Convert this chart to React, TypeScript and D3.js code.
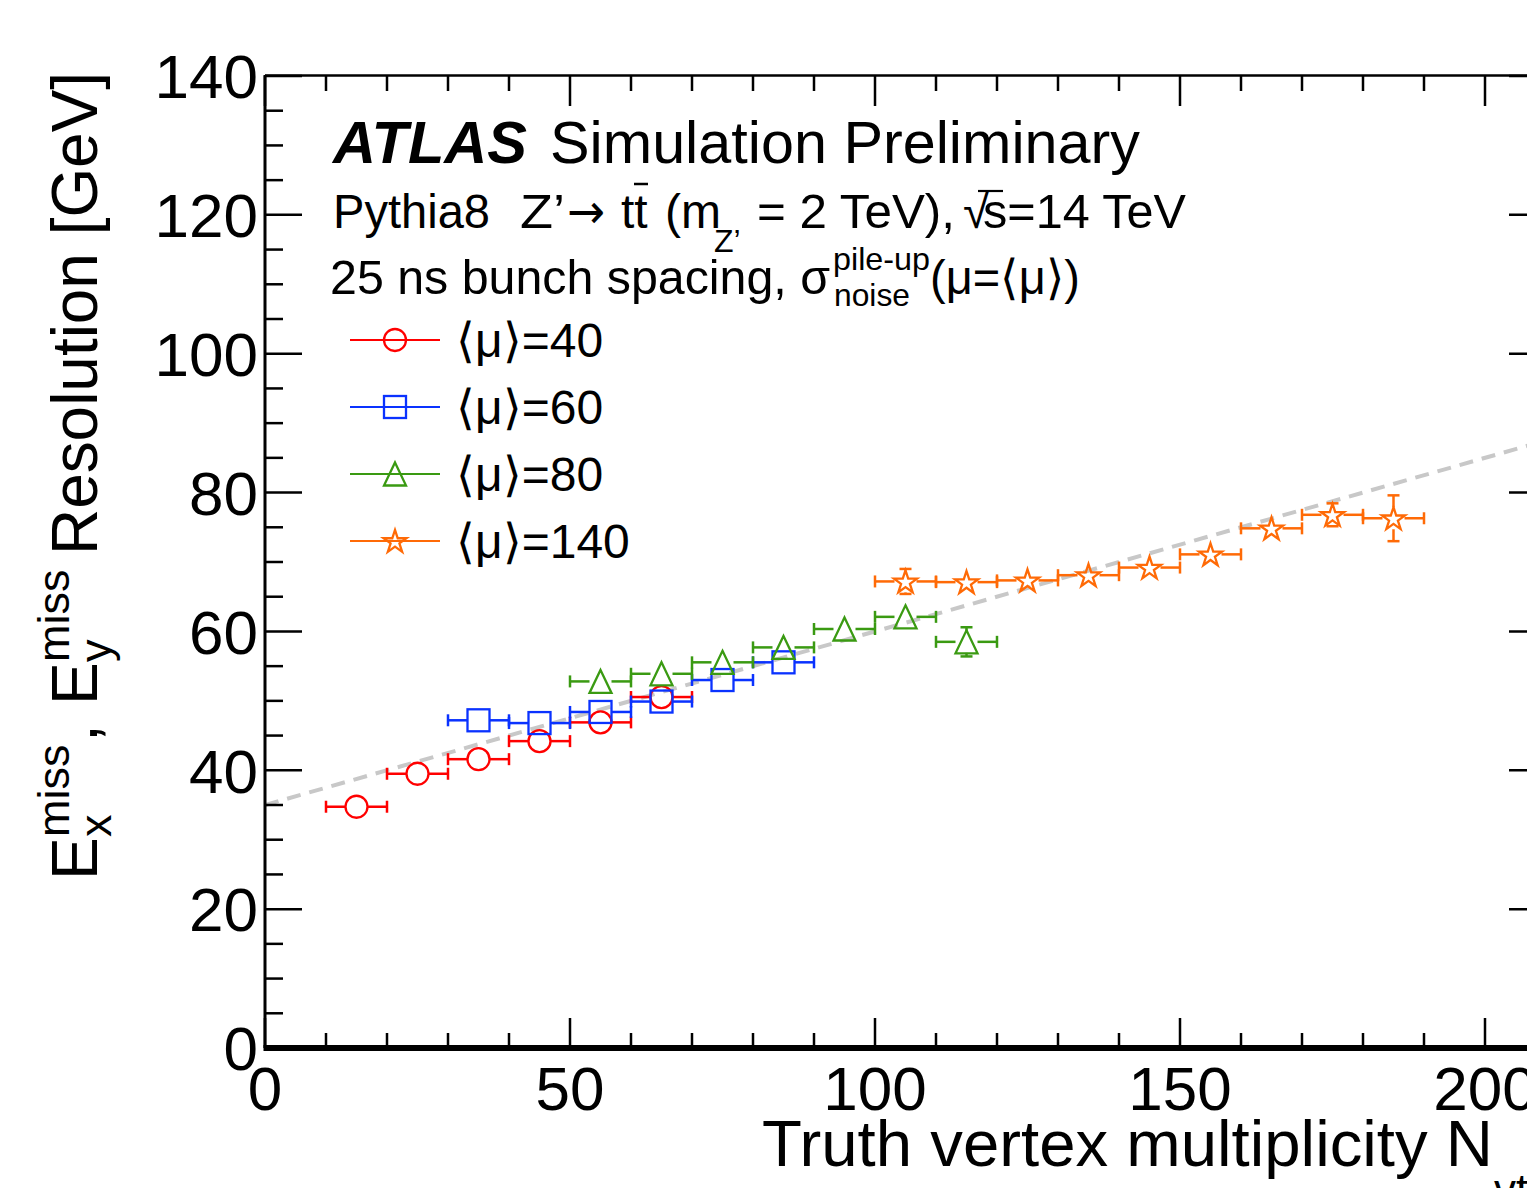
import React from 'react';
import * as d3 from 'd3';

// ---- data ----
const mu40X = [15, 25, 35, 45, 55, 65];
const mu40Y = [34.75, 39.5, 41.6, 44.2, 46.9, 50.55];
const mu40E = [0.3, 0.4, 0.4, 0.5, 0.6, 0.8];

const mu60X = [35, 45, 55, 65, 75, 85];
const mu60Y = [47.2, 46.8, 48.4, 49.9, 53.0, 55.55];
const mu60E = [0.6, 0.6, 0.6, 0.7, 0.8, 0.9];

const mu80X = [55, 65, 75, 85, 95, 105, 115];
const mu80Y = [52.8, 53.9, 55.55, 57.7, 60.35, 62.1, 58.5];
const mu80E = [0.6, 0.6, 0.7, 0.8, 0.9, 1.0, 2.1];

const mu140X = [105, 115, 125, 135, 145, 155, 165, 175, 185];
const mu140Y = [67.2, 67.1, 67.35, 68.1, 69.2, 71.1, 74.85, 76.8, 76.3];
const mu140E = [1.8, 0.8, 0.8, 0.8, 0.9, 1.0, 1.1, 1.65, 3.3];

const binHalfWidth = 5;

const fitX = [0, 210];
const fitY = [35.0, 87.5];

const legendLabels = ['⟨μ⟩=40', '⟨μ⟩=60', '⟨μ⟩=80', '⟨μ⟩=140'];
const yTickLabels = [0, 20, 40, 60, 80, 100, 120, 140];
const xTickLabels = [0, 50, 100, 150, 200];

const RED = '#ff0000';
const BLUE = '#0a32ff';
const GREEN = '#3a9a12';
const ORANGE = '#ff6a06';

const FONT = '"Liberation Sans", Arial, Helvetica, sans-serif';

const starPath = d3.symbol().type(d3.symbolStar).size(165)() as string;

function Marker({ type, cx, cy, color }: { type: string; cx: number; cy: number; color: string }) {
  const common = { fill: 'none', stroke: color, strokeWidth: 2.3 };
  if (type === 'circle') return <circle cx={cx} cy={cy} r={11} {...common} />;
  if (type === 'square') return <rect x={cx - 11} y={cy - 11} width={22} height={22} {...common} />;
  if (type === 'triangle')
    return <path d={`M${cx},${cy - 11.5}L${cx + 11},${cy + 11.5}L${cx - 11},${cy + 11.5}Z`} {...common} strokeLinejoin="miter" />;
  return <path d={starPath} transform={`translate(${cx},${cy + 1})`} {...common} />;
}

export default function App() {
  const x = d3.scaleLinear().domain([0, 210]).range([265, 1546]);
  const y = d3.scaleLinear().domain([0, 140]).range([1048, 76]);

  const series = [
    { xs: mu40X, ys: mu40Y, es: mu40E, color: RED, marker: 'circle', label: legendLabels[0] },
    { xs: mu60X, ys: mu60Y, es: mu60E, color: BLUE, marker: 'square', label: legendLabels[1] },
    { xs: mu80X, ys: mu80Y, es: mu80E, color: GREEN, marker: 'triangle', label: legendLabels[2] },
    { xs: mu140X, ys: mu140Y, es: mu140E, color: ORANGE, marker: 'star', label: legendLabels[3] },
  ];

  const yMinor = y.ticks(28);
  const yMajor = y.ticks(7);
  const xMinor = x.ticks(21);
  const xMajor = x.ticks(5);

  const x0 = x(0), x1 = x(210), yTop = y(140), yBot = y(0);
  const ms = 11; // marker half-size
  const cap = 6;

  const fitLine = d3.line<number>().x((_, i) => x(fitX[i])).y((_, i) => y(fitY[i]));

  return (
    <svg width={1527} height={1188} style={{ position: 'absolute', left: 0, top: 0 }} fontFamily={FONT}>
      <rect width={1527} height={1188} fill="#fff" />
      <defs>
        <clipPath id="plotclip">
          <rect x={x0} y={yTop} width={x1 - x0} height={yBot - yTop} />
        </clipPath>
      </defs>

      {/* fit line */}
      <path
        d={fitLine(fitX) as string}
        clipPath="url(#plotclip)"
        fill="none"
        stroke="#c8c8c8"
        strokeWidth={4}
        strokeDasharray="14 9"
      />

      {/* data */}
      {series.map((s, si) => (
        <g key={si} stroke={s.color} strokeWidth={2.5} fill="none">
          {s.xs.map((xv, i) => {
            const cx = x(xv), cy = y(s.ys[i]);
            const xl = x(xv - binHalfWidth), xr = x(xv + binHalfWidth);
            const dy = y(s.ys[i] - s.es[i]) - cy;
            return (
              <g key={i}>
                <line x1={xl} x2={cx - ms} y1={cy} y2={cy} />
                <line x1={cx + ms} x2={xr} y1={cy} y2={cy} />
                <line x1={xl} x2={xl} y1={cy - cap} y2={cy + cap} />
                <line x1={xr} x2={xr} y1={cy - cap} y2={cy + cap} />
                {dy > ms && (
                  <g>
                    <line x1={cx} x2={cx} y1={cy - ms} y2={cy - dy} />
                    <line x1={cx} x2={cx} y1={cy + ms} y2={cy + dy} />
                    <line x1={cx - cap} x2={cx + cap} y1={cy - dy} y2={cy - dy} />
                    <line x1={cx - cap} x2={cx + cap} y1={cy + dy} y2={cy + dy} />
                  </g>
                )}
                <Marker type={s.marker} cx={cx} cy={cy} color={s.color} />
              </g>
            );
          })}
        </g>
      ))}

      {/* frame */}
      <g stroke="#000" fill="none">
        <line x1={x0} x2={x0} y1={yTop - 1} y2={yBot} strokeWidth={3} />
        <line x1={x0} x2={x1} y1={yTop - 0.5} y2={yTop - 0.5} strokeWidth={2.5} />
        <line x1={x1} x2={x1} y1={yTop} y2={yBot} strokeWidth={3} />
        {yMinor.map((t) => {
          const len = yMajor.includes(t) ? 37 : 18;
          return (
            <g key={'y' + t} strokeWidth={2.5}>
              <line x1={x0} x2={x0 + len} y1={y(t)} y2={y(t)} />
              <line x1={x1} x2={x1 - len} y1={y(t)} y2={y(t)} />
            </g>
          );
        })}
        {xMinor.map((t) => {
          const len = xMajor.includes(t) ? 30 : 15;
          return (
            <g key={'x' + t} strokeWidth={2.5}>
              <line x1={x(t)} x2={x(t)} y1={yBot} y2={yBot - len} />
              <line x1={x(t)} x2={x(t)} y1={yTop} y2={yTop + len} />
            </g>
          );
        })}
        <line x1={x0 - 1.5} x2={x1} y1={yBot} y2={yBot} strokeWidth={6} />
      </g>

      {/* tick labels */}
      {yTickLabels.map((t) => (
        <text key={'yl' + t} x={258} y={y(t)} dy="0.36em" textAnchor="end" fontSize={62}>
          {t}
        </text>
      ))}
      {xTickLabels.map((t) => (
        <text key={'xl' + t} x={x(t)} y={1110} textAnchor="middle" fontSize={62}>
          {t}
        </text>
      ))}

      {/* x axis title */}
      <text x={762} y={1166} fontSize={64} textLength={731} lengthAdjust="spacingAndGlyphs">
        Truth vertex multiplicity N
      </text>
      <text x={1494} y={1205} fontSize={44}>vtx</text>

      {/* y axis title */}
      <g transform="translate(97,880) rotate(-90)" fontSize={64}>
        <text x={0} y={0}>E</text>
        <text x={43} y={-28} fontSize={45}>miss</text>
        <text x={43} y={14} fontSize={45}>x</text>
        <text x={138} y={0}>,</text>
        <text x={175} y={0}>E</text>
        <text x={218} y={-28} fontSize={45}>miss</text>
        <text x={218} y={14} fontSize={45}>y</text>
        <text x={325} y={0} textLength={483} lengthAdjust="spacingAndGlyphs">Resolution [GeV]</text>
      </g>

      {/* header */}
      <text x={333} y={163} fontSize={60} fontWeight="bold" fontStyle="italic" textLength={194} lengthAdjust="spacingAndGlyphs">
        ATLAS
      </text>
      <text x={550} y={163} fontSize={60} textLength={590} lengthAdjust="spacingAndGlyphs">
        Simulation Preliminary
      </text>

      <g fontSize={48}>
        <text x={333} y={228} textLength={157} lengthAdjust="spacingAndGlyphs">Pythia8</text>
        <text x={520} y={228} textLength={45} lengthAdjust="spacingAndGlyphs">Z’</text>
        <text x={567} y={228} fontFamily='"DejaVu Sans", sans-serif' textLength={38} lengthAdjust="spacingAndGlyphs">→</text>
        <text x={621} y={228}>tt</text>
        <line x1={634} x2={648} y1={184} y2={184} stroke="#000" strokeWidth={2.5} />
        <text x={665} y={228}>(m</text>
        <text x={714} y={252} fontSize={32}>Z’</text>
        <text x={757} y={228} textLength={198} lengthAdjust="spacingAndGlyphs">= 2 TeV),</text>
        <text x={963} y={228}>√</text>
        <line x1={978} x2={1003} y1={191} y2={191} stroke="#000" strokeWidth={2.2} />
        <text x={983} y={228} textLength={203} lengthAdjust="spacingAndGlyphs">s=14 TeV</text>

        <text x={330} y={294} textLength={500} lengthAdjust="spacingAndGlyphs">25 ns bunch spacing, σ</text>
        <text x={833} y={270} fontSize={32} textLength={97} lengthAdjust="spacingAndGlyphs">pile-up</text>
        <text x={834} y={306} fontSize={32} textLength={76} lengthAdjust="spacingAndGlyphs">noise</text>
        <text x={930} y={294} textLength={150} lengthAdjust="spacingAndGlyphs">(μ=⟨μ⟩)</text>
      </g>

      {/* legend */}
      {series.map((s, i) => {
        const ly = 340 + i * 67;
        return (
          <g key={'lg' + i}>
            <line x1={350} x2={440} y1={ly} y2={ly} stroke={s.color} strokeWidth={2} />
            <Marker type={s.marker} cx={395} cy={ly} color={s.color} />
            <text x={456} y={ly + 17} fontSize={48}>{s.label}</text>
          </g>
        );
      })}
    </svg>
  );
}
